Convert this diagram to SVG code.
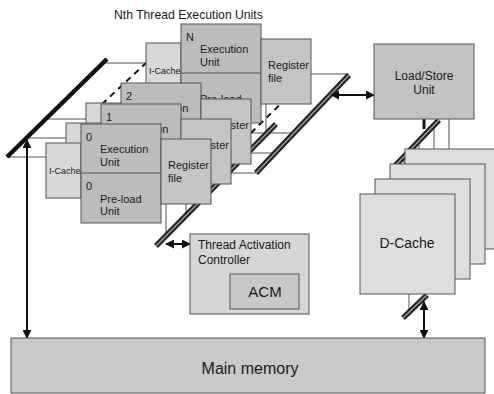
<svg xmlns="http://www.w3.org/2000/svg" width="494" height="394" viewBox="0 0 494 394">
<style>
text{font-family:"Liberation Sans",Arial,sans-serif;fill:#1a1a1a}
.box{stroke:#555;stroke-width:1}
.ic{fill:#d8d8d8}
.ex{fill:#bcbcbc}
.rf{fill:#c4c4c4}
.t11{font-size:11px}
.t9{font-size:9px}
.thin{stroke:#555;stroke-width:1;fill:none}
.dash{stroke:#111;stroke-width:2;stroke-dasharray:6,5;fill:none}
.busO{stroke:#222;stroke-width:5.5;stroke-linecap:butt;fill:none}
.busI{stroke:#9a9a9a;stroke-width:1.5;fill:none}
.arr{stroke:#111;stroke-width:2;fill:none;marker-start:url(#ah);marker-end:url(#ah)}
</style>
<defs>
<marker id="ah" viewBox="0 0 10 10" refX="9" refY="5" markerWidth="9" markerHeight="9" markerUnits="userSpaceOnUse" orient="auto-start-reverse">
<path d="M0,0 L10,5 L0,10 z" fill="#111"/>
</marker>
</defs>
<rect width="494" height="394" fill="#fff"/>
<text x="114" y="19" font-size="12.2">Nth Thread Execution Units</text>

<g id="connectors">
<line class="thin" x1="7" y1="157" x2="46" y2="157"/>
<line class="thin" x1="26" y1="138" x2="66" y2="138"/>
<line class="thin" x1="46" y1="119" x2="86" y2="119"/>
<line class="thin" x1="103" y1="63" x2="146" y2="63"/>
<line class="dash" x1="86" y1="119" x2="146" y2="63"/>
<line class="thin" x1="211" y1="173" x2="256" y2="173"/>
<line class="thin" x1="231" y1="153" x2="275" y2="153"/>
<line class="thin" x1="251" y1="133" x2="294" y2="133"/>
<line class="thin" x1="311" y1="74" x2="349" y2="74"/>
<line class="dash" x1="251" y1="133" x2="311" y2="74"/>
<line class="thin" x1="166" y1="204" x2="166" y2="235"/>
<line class="thin" x1="186" y1="184" x2="186" y2="215"/>
<line class="thin" x1="206" y1="164" x2="206" y2="195"/>
<line class="thin" x1="266" y1="104" x2="266" y2="134"/>
<line x1="7" y1="157" x2="107" y2="59" stroke="#111" stroke-width="4.5"/>
<line class="arr" x1="27" y1="140" x2="27" y2="338"/>
<line class="busO" x1="156" y1="246" x2="276" y2="124"/>
<line class="busI" x1="156" y1="246" x2="276" y2="124"/>
<line class="arr" x1="166" y1="244" x2="190" y2="244"/>
<line class="busO" x1="256" y1="173" x2="349" y2="75"/>
<line class="busI" x1="256" y1="173" x2="349" y2="75"/>
<line class="arr" x1="331" y1="95" x2="374" y2="95"/>
<line x1="424" y1="119" x2="424" y2="129" stroke="#111" stroke-width="3"/>
<line class="thin" x1="404" y1="157" x2="404" y2="194"/>
<line class="thin" x1="419" y1="141" x2="419" y2="179"/>
<line class="thin" x1="434" y1="125" x2="434" y2="164"/>
<line class="thin" x1="449" y1="119" x2="449" y2="149"/>
<line class="busO" x1="393" y1="168" x2="439" y2="120"/>
<line class="busI" x1="393" y1="168" x2="439" y2="120"/>
<line class="thin" x1="409" y1="294" x2="409" y2="312"/>
<line class="busO" x1="403" y1="318" x2="427" y2="295"/>
<line class="busI" x1="403" y1="318" x2="427" y2="295"/>
<line class="arr" x1="424" y1="302" x2="424" y2="338"/>
</g>

<g id="threadN">
<rect class="box ic" x="146" y="43" width="35" height="55"/>
<text class="t9" x="149" y="74">I-Cache</text>
<rect class="box ex" x="181" y="24" width="80" height="99"/>
<line class="thin" x1="181" y1="73" x2="261" y2="73"/>
<text class="t11" x="186" y="41">N</text>
<text class="t11" x="200" y="53">Execution</text>
<text class="t11" x="200" y="66">Unit</text>
<text class="t11" x="200" y="103">Pre-load</text>
<rect class="box rf" x="261" y="39" width="50" height="65"/>
<text class="t11" x="268" y="69">Register</text>
<text class="t11" x="268" y="82">file</text>
</g>

<g id="thread2">
<rect class="box ic" x="86" y="103" width="35" height="55"/>
<rect class="box ex" x="121" y="83" width="80" height="99"/>
<line class="thin" x1="121" y1="132" x2="201" y2="132"/>
<text class="t11" x="126" y="100">2</text>
<text class="t11" x="140" y="112">Execution</text>
<rect class="box rf" x="201" y="99" width="50" height="65"/>
<text class="t11" x="208" y="129">Register</text>
</g>

<g id="thread1">
<rect class="box ic" x="66" y="123" width="35" height="55"/>
<rect class="box ex" x="101" y="104" width="80" height="99"/>
<line class="thin" x1="101" y1="153" x2="181" y2="153"/>
<text class="t11" x="106" y="121">1</text>
<text class="t11" x="120" y="133">Execution</text>
<rect class="box rf" x="181" y="119" width="50" height="65"/>
<text class="t11" x="188" y="149">Register</text>
</g>

<g id="thread0">
<rect class="box ic" x="46" y="143" width="35" height="55"/>
<text class="t9" x="49" y="174">I-Cache</text>
<rect class="box ex" x="81" y="124" width="80" height="99"/>
<line class="thin" x1="81" y1="173" x2="161" y2="173"/>
<text class="t11" x="86" y="141">0</text>
<text class="t11" x="100" y="153">Execution</text>
<text class="t11" x="100" y="166">Unit</text>
<text class="t11" x="86" y="190">0</text>
<text class="t11" x="100" y="203">Pre-load</text>
<text class="t11" x="100" y="215">Unit</text>
<rect class="box rf" x="161" y="139" width="50" height="65"/>
<text class="t11" x="168" y="169">Register</text>
<text class="t11" x="168" y="182">file</text>
</g>

<g id="loadstore">
<rect class="box" x="374" y="44" width="100" height="75" fill="#c2c2c2"/>
<text x="424" y="80" font-size="12" text-anchor="middle">Load/Store</text>
<text x="424" y="94" font-size="12" text-anchor="middle">Unit</text>
</g>

<g id="dcache">
<rect class="box" x="405" y="149" width="95" height="100" fill="#dedede"/>
<rect class="box" x="390" y="164" width="95" height="100" fill="#dedede"/>
<rect class="box" x="375" y="179" width="95" height="100" fill="#dedede"/>
<rect class="box" x="360" y="194" width="95" height="100" fill="#dedede"/>
<text x="407" y="248" font-size="14" text-anchor="middle">D-Cache</text>
</g>

<g id="tac">
<rect class="box" x="190" y="234" width="119" height="80" fill="#d6d6d6"/>
<text x="198" y="249" font-size="12">Thread Activation</text>
<text x="198" y="264" font-size="12">Controller</text>
</g>

<g id="acm">
<rect class="box" x="230" y="274" width="69" height="35" fill="#c8c8c8"/>
<text x="265" y="297" font-size="15" text-anchor="middle">ACM</text>
</g>

<g id="mainmemory">
<rect class="box" x="11" y="338" width="474" height="55" fill="#c9c9c9"/>
<text x="250" y="374" font-size="16" text-anchor="middle">Main memory</text>
</g>
</svg>
